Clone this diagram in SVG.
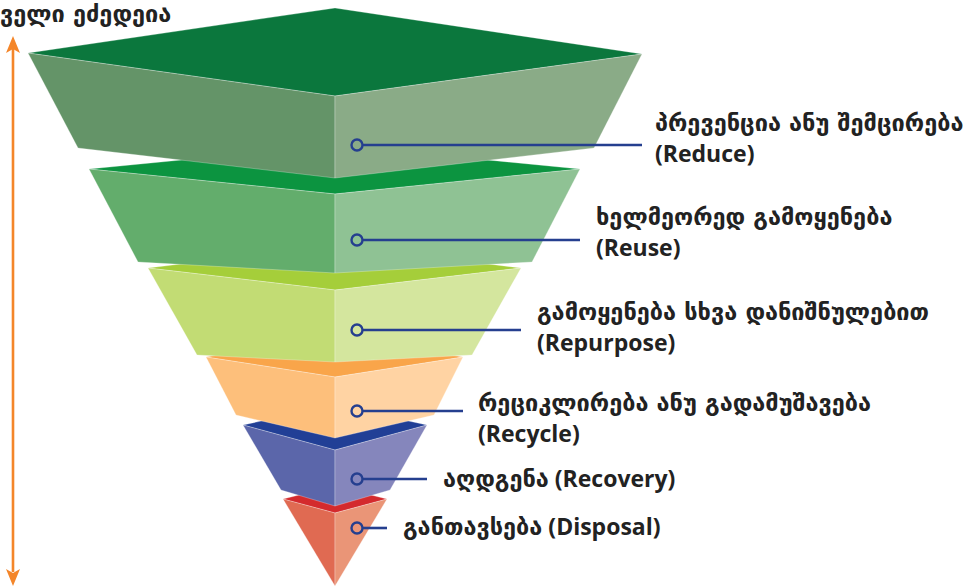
<svg xmlns="http://www.w3.org/2000/svg" width="968" height="586" viewBox="0 0 968 586">
<defs>
<style>
.lbl{font-family:"Open Sans","DejaVu Sans",sans-serif;font-weight:bold;font-size:23px;fill:#222}
.ka{font-family:"DejaVu Sans",sans-serif;font-weight:bold;font-size:23.5px}
.face{stroke:#ffffff;stroke-opacity:0.35;stroke-width:0.8;stroke-linejoin:round}
.conn line{stroke:#253f8f;stroke-width:2.6}
.conn circle{fill:none;stroke:#253f8f;stroke-width:2.4}
.ah{fill:#f4862a}
</style>
</defs>
<rect width="968" height="586" fill="#ffffff"/>
<text class="lbl ka" x="0" y="22">ველი ეძედეია</text>
<g id="scale">
<line x1="13" y1="48" x2="13" y2="572" stroke="#f4862a" stroke-width="2.6"/>
<path class="ah" d="M13,36 L20,53 L13,49 L6,53 Z"/>
<path class="ah" d="M13,586 L20,569 L13,573 L6,569 Z"/>
</g>

<g id="layer6">
<polygon class="face" points="283,499 335,486 387,499 335,513" fill="#d42a2d"/>
<polygon class="face" points="283,499 335,513 335,586" fill="#e06a52"/>
<polygon class="face" points="387,499 335,513 335,586" fill="#ea9577"/>
</g>
<g id="layer5">
<polygon class="face" points="243,425 335,405 427,425 335,450" fill="#213f96"/>
<polygon class="face" points="243,425 335,450 335,506 281,490" fill="#5b66aa"/>
<polygon class="face" points="427,425 335,450 335,506 390,490" fill="#8586bc"/>
</g>
<g id="layer4">
<polygon class="face" points="206,357 335,335 463,357 335,377" fill="#f9a54a"/>
<polygon class="face" points="206,357 335,377 335,438 236,415" fill="#fdbf7b"/>
<polygon class="face" points="463,357 335,377 335,438 434,415" fill="#ffd3a3"/>
</g>
<g id="layer3">
<polygon class="face" points="148,268 335,245 521,268 335,290" fill="#a5ce3a"/>
<polygon class="face" points="148,268 335,290 335,362 197,355" fill="#c2dc74"/>
<polygon class="face" points="521,268 335,290 335,362 472,355" fill="#d4e69e"/>
</g>
<g id="layer2">
<polygon class="face" points="89,169 335,145 580,169 335,194" fill="#0c9440"/>
<polygon class="face" points="89,169 335,194 335,273 138,262" fill="#63ad6c"/>
<polygon class="face" points="580,169 335,194 335,273 532,262" fill="#8fc294"/>
</g>
<g id="layer1">
<polygon class="face" points="28,53 335,8 642,54 335,96" fill="#0b773d"/>
<polygon class="face" points="28,53 335,96 335,178 78,148" fill="#649468"/>
<polygon class="face" points="642,54 335,96 335,178 594,148" fill="#8aab87"/>
</g>

<g id="connectors" class="conn">
<line x1="363" y1="145" x2="642" y2="145"/><circle cx="357" cy="145" r="5.5"/>
<line x1="363" y1="240" x2="580" y2="240"/><circle cx="357" cy="240" r="5.5"/>
<line x1="363" y1="330" x2="521" y2="330"/><circle cx="357" cy="330" r="5.5"/>
<line x1="363" y1="411" x2="463" y2="411"/><circle cx="357" cy="411" r="5.5"/>
<line x1="363" y1="479" x2="427" y2="479"/><circle cx="357" cy="479" r="5.5"/>
<line x1="363" y1="528" x2="387" y2="528"/><circle cx="357" cy="528" r="5.5"/>
</g>

<g id="label1"><text class="lbl ka" x="655" y="131">პრევენცია ანუ შემცირება</text><text class="lbl" x="655" y="162">(Reduce)</text></g>
<g id="label2"><text class="lbl ka" x="596" y="225">ხელმეორედ გამოყენება</text><text class="lbl" x="596" y="256">(Reuse)</text></g>
<g id="label3"><text class="lbl ka" x="537" y="320">გამოყენება სხვა დანიშნულებით</text><text class="lbl" x="537" y="351">(Repurpose)</text></g>
<g id="label4"><text class="lbl ka" x="478" y="411">რეციკლირება ანუ გადამუშავება</text><text class="lbl" x="478" y="442">(Recycle)</text></g>
<g id="label5"><text class="lbl" x="443" y="487"><tspan class="ka">აღდგენა</tspan> (Recovery)</text></g>
<g id="label6"><text class="lbl" x="403" y="535"><tspan class="ka">განთავსება</tspan> (Disposal)</text></g>
</svg>
